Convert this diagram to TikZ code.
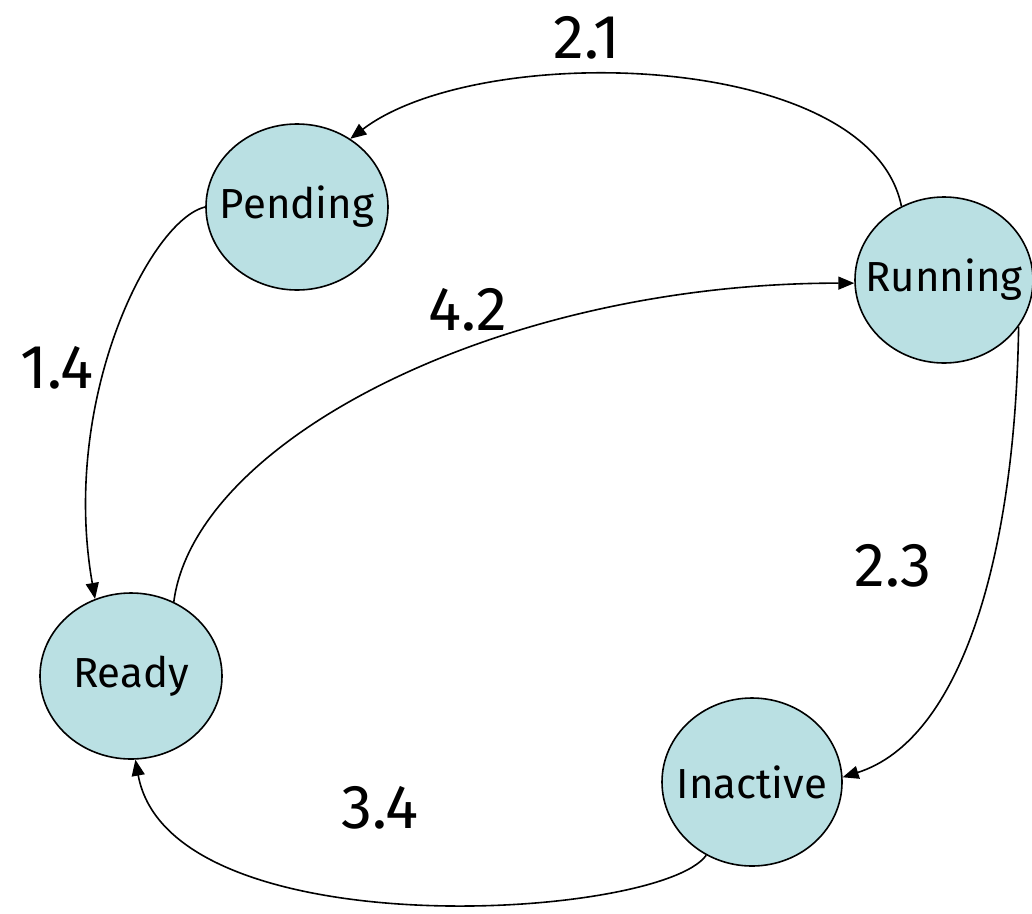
\documentclass[tikz,border=0pt]{standalone}
\usepackage{fontspec}
\setmainfont{Fira Sans}
\usetikzlibrary{arrows.meta,shapes.geometric}
\definecolor{statefill}{HTML}{BAE0E3}
\tikzset{
  state/.style={ellipse,draw=black,line width=1.6pt,fill=statefill,inner xsep=-30pt,inner ysep=-20pt,font=\fontsize{42}{44}\selectfont},
  trans/.style={draw=black,line width=1.6pt,-{Triangle[length=16pt,width=13pt]}},
  lbl/.style={font=\fontsize{62}{64}\selectfont}
}
\begin{document}
\begin{tikzpicture}[x=1pt,y=-1pt]
\useasboundingbox (0,0) rectangle (1032,913);
\node[state,minimum width=182pt,minimum height=166pt] (pending) at (297,207) {Pending};
\node[state,minimum width=178pt,minimum height=166pt] (running) at (944,280) {Running};
\node[state,minimum width=182pt,minimum height=166pt] (ready) at (131,676) {Ready};
\node[state,minimum width=180pt,minimum height=168pt] (inactive) at (752,782) {Inactive};

\draw[trans] (running.120) .. controls (870,50) and (480,40) .. (pending.52);
\draw[trans] (pending.180) .. controls (150,220) and (60,400) .. (ready.115);
\draw[trans] (ready.60) .. controls (195,440) and (500,283) .. (running.182);
\draw[trans] (running.-32) .. controls (1015,560) and (960,740) .. (inactive.3);
\draw[trans] (inactive.-122) .. controls (660,920) and (170,950) .. (ready.-87);

\node[lbl] (l21) at (587,38) {2.1};
\node[lbl] (l14) at (57,368) {1.4};
\node[lbl] (l42) at (468,310) {4.2};
\node[lbl] (l23) at (893,566) {2.3};
\node[lbl] (l34) at (380,808) {3.4};
\end{tikzpicture}
\end{document}
